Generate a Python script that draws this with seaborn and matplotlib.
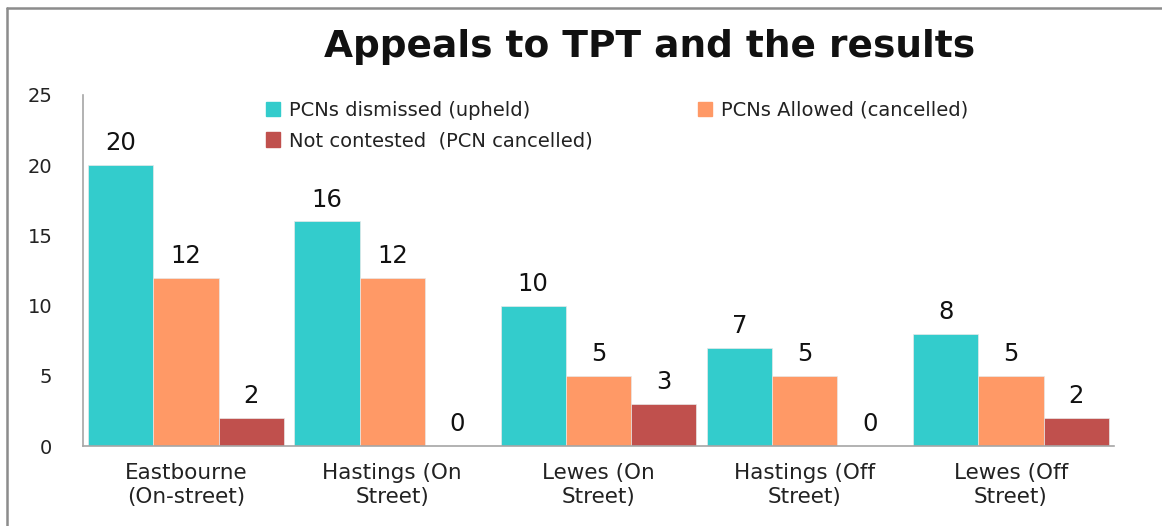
import pandas as pd
import matplotlib.pyplot as plt
import seaborn as sns
from matplotlib.patches import Patch
from matplotlib.lines import Line2D

# datos
sites = ['Eastbourne\n(On-street)', 'Hastings (On\nStreet)', 'Lewes (On\nStreet)',
         'Hastings (Off\nStreet)', 'Lewes (Off\nStreet)']
series = ['PCNs dismissed (upheld)', 'PCNs Allowed (cancelled)', 'Not contested  (PCN cancelled)']
dismissed = [20, 16, 10, 7, 8]
allowed = [12, 12, 5, 5, 5]
not_contested = [2, 0, 3, 0, 2]
colors = ['#33CCCC', '#FF9966', '#C0504D']
yticks = [0, 5, 10, 15, 20, 25]

df = pd.DataFrame({
    'site': sites * 3,
    'series': [series[0]] * 5 + [series[1]] * 5 + [series[2]] * 5,
    'value': dismissed + allowed + not_contested,
})

sns.set_style('white')
plt.rcParams['font.family'] = ['DejaVu Sans']

W, H = 1162, 526
fig = plt.figure(figsize=(W / 100, H / 100), dpi=100)
ax = fig.add_axes([83 / W, 1 - 446 / H, (1114 - 83) / W, (446 - 95) / H])

sns.barplot(data=df, x='site', y='value', hue='series', palette=colors,
            width=0.95, gap=0, saturation=1, ax=ax, legend=False, errorbar=None,
            linewidth=0.5, edgecolor='#E8E8E8')

for cont in ax.containers:
    ax.bar_label(cont, fmt='%d', padding=7, fontsize=17.5, color='#111111')

ax.set_ylim(0, 25)
ax.set_xlim(-0.5, 4.5)
ax.set_yticks(yticks)
ax.set_xlabel('')
ax.set_ylabel('')
ax.tick_params(axis='y', length=0, pad=22, labelsize=14, labelcolor='#222222')
ax.tick_params(axis='x', which='major', length=0, pad=12, labelsize=15.5, labelcolor='#222222')
for lab in ax.get_xticklabels():
    lab.set_linespacing(1.3)
ax.set_xticks([i - 0.5 for i in range(6)], minor=True)
ax.tick_params(axis='x', which='minor', length=6, color='#A6A6A6', width=1.2, direction='out')
for s in ['top', 'right']:
    ax.spines[s].set_visible(False)
for s in ['left', 'bottom']:
    ax.spines[s].set_color('#A6A6A6')
    ax.spines[s].set_linewidth(1.2)

handles = [Patch(color=colors[0]), Patch(color=colors[2]), Patch(color=colors[1])]
labels = [series[0], series[2], series[1]]
fig.legend(handles, labels, ncol=2, loc='upper left', bbox_to_anchor=(248 / W, 1 - 83 / H),
           frameon=False, fontsize=14, handlelength=0.75, handleheight=0.75,
           handletextpad=0.45, columnspacing=5.4, labelspacing=0.6, labelcolor='#222222')

fig.text(650 / W, 1 - 47 / H, 'Appeals to TPT and the results', ha='center', va='center',
         fontsize=27, fontweight='bold', color='#111111')

# borde del grafico
fig.add_artist(Line2D([7 / W, 1], [1 - 8 / H, 1 - 8 / H], color='#8C8C8C', lw=1.8,
                      transform=fig.transFigure))
fig.add_artist(Line2D([7 / W, 7 / W], [0, 1 - 8 / H], color='#8C8C8C', lw=1.8,
                      transform=fig.transFigure))

fig.savefig('out.png', dpi=100)
